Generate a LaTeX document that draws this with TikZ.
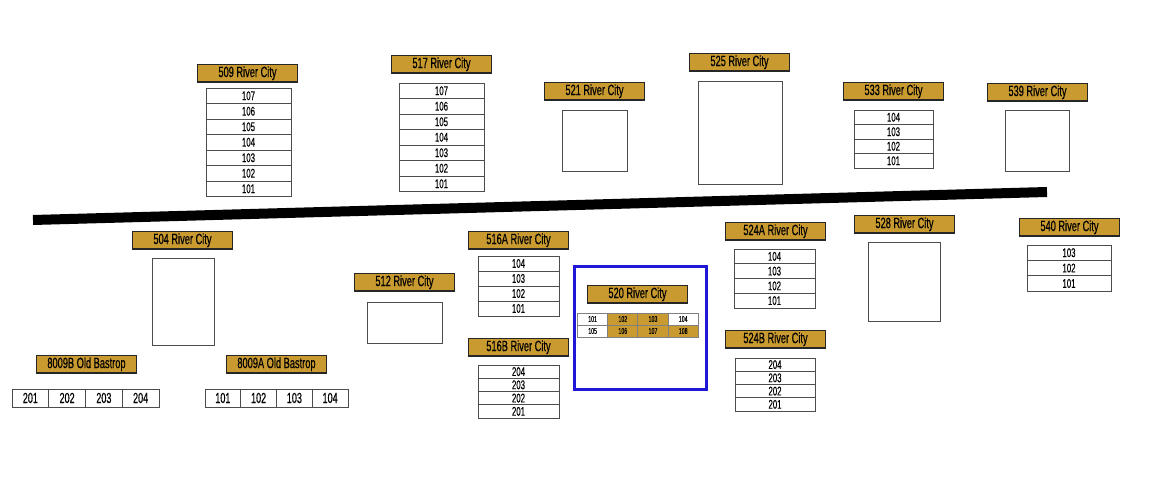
\documentclass[tikz,border=0pt]{standalone}
\usepackage{fontspec}
\setmainfont[FakeStretch=0.62,FakeBold=0.3]{Liberation Sans}
\usetikzlibrary{positioning}
\definecolor{gold}{RGB}{201,154,48}
\definecolor{roomblue}{RGB}{32,24,214}
\tikzstyle{blabel}=[rectangle,fill=gold,draw=black!85,line width=0.65pt,anchor=north west,inner sep=0pt,outer sep=0pt,xshift=0.01cm,yshift=-0.01cm,minimum width=2cm,minimum height=0.35cm,font=\fontsize{8.5}{9}\selectfont]
\tikzstyle{unit}=[rectangle,fill=white,draw=black!70,line width=0.55pt,anchor=north west,inner sep=0pt,outer sep=0pt,font=\fontsize{7.2}{8}\selectfont]
\tikzstyle{rowunit}=[unit,font=\fontsize{8.3}{9}\selectfont]
\tikzstyle{tinyunit}=[unit,draw=black!50,font=\fontsize{4.8}{5}\selectfont]
\tikzstyle{emptybox}=[rectangle,fill=white,draw=black!70,line width=0.55pt,anchor=north west,inner sep=0pt,outer sep=0pt]
\tikzstyle{road}=[draw=black,line width=0.2cm]

\begin{document}
\begin{tikzpicture}[x=0.02cm,y=-0.02cm]
    \useasboundingbox (0,0) rectangle (1162,482);

    % the road between the two rows
    \coordinate (roadw) at (33,220);
    \coordinate (roade) at (1047,192);
    \path[road] (roadw) -- (roade);

    % building labels
    \foreach \pos/\name/\txt in {{(197,64)/l509/509 River City}, {(391,55)/l517/517 River City},
            {(544,82)/l521/521 River City}, {(689,53)/l525/525 River City},
            {(843,82)/l533/533 River City}, {(987,83)/l539/539 River City},
            {(132,231)/l504/504 River City}, {(354,273)/l512/512 River City},
            {(468,231)/l516a/516A River City}, {(468,338)/l516b/516B River City},
            {(587,285)/l520/520 River City}, {(725,222)/l524a/524A River City},
            {(725,330)/l524b/524B River City}, {(854,215)/l528/528 River City},
            {(1019,218)/l540/540 River City}, {(36,355)/l8009b/8009B Old Bastrop},
            {(226,355)/l8009a/8009A Old Bastrop}}
            \node[blabel] (\name) at \pos {\txt};

    % buildings with no units
    \foreach \x/\y/\w/\h/\name in {562/110/65/61/b521, 698/81/84/103/b525, 1005/110/64/61/b539,
            152/258/62/87/b504, 367/302/75/41/b512, 868/242/72/79/b528}
            \node[emptybox,minimum width={\w*0.02cm},minimum height={\h*0.02cm}] (\name) at (\x,\y) {};

    % vertical stacks of units
    \foreach \x/\y/\w/\h/\name/\units in {206/88/85/15.5/s509/{107,106,105,104,103,102,101},
            399/83/85/15.5/s517/{107,106,105,104,103,102,101},
            854/110/79/14.5/s533/{104,103,102,101},
            478/256/81/15/s516a/{104,103,102,101},
            478/365/81/13.25/s516b/{204,203,202,201},
            734/249/81/14.75/s524a/{104,103,102,101},
            735/358/80/13.25/s524b/{204,203,202,201},
            1027/245/84/15.4/s540/{103,102,101}}
        \foreach \u [count=\i from 0] in \units
            \node[unit,minimum width={\w*0.02cm},minimum height={\h*0.02cm}] (\name u\u) at (\x,{\y+\i*\h}) {\u};

    % horizontal rows of units
    \foreach \x/\y/\w/\h/\name/\units in {12/389/36.75/18/r8009b/{201,202,203,204},
            205/389/35.75/18/r8009a/{101,102,103,104}}
        \foreach \u [count=\i from 0] in \units
            \node[rowunit,minimum width={\w*0.02cm},minimum height={\h*0.02cm}] (\name u\u) at ({\x+\i*\w},\y) {\u};

    % highlighted building
    \node[rectangle,draw=roomblue,line width=1.7pt,anchor=north west,inner sep=0pt,outer sep=0pt,minimum width=2.64cm,minimum height=2.464cm] (focus) at (574.2,266.8) {};
    \foreach \cx/\cy/\u/\shade in {0/0/101/white, 1/0/102/gold, 2/0/103/gold, 3/0/104/white,
            0/1/105/white, 1/1/106/gold, 2/1/107/gold, 3/1/108/gold}
        \node[tinyunit,fill=\shade,minimum width=0.604cm,minimum height=0.24cm] (g\u) at ({577.5+\cx*30.2},{313+\cy*12}) {\u};
\end{tikzpicture}
\end{document}
